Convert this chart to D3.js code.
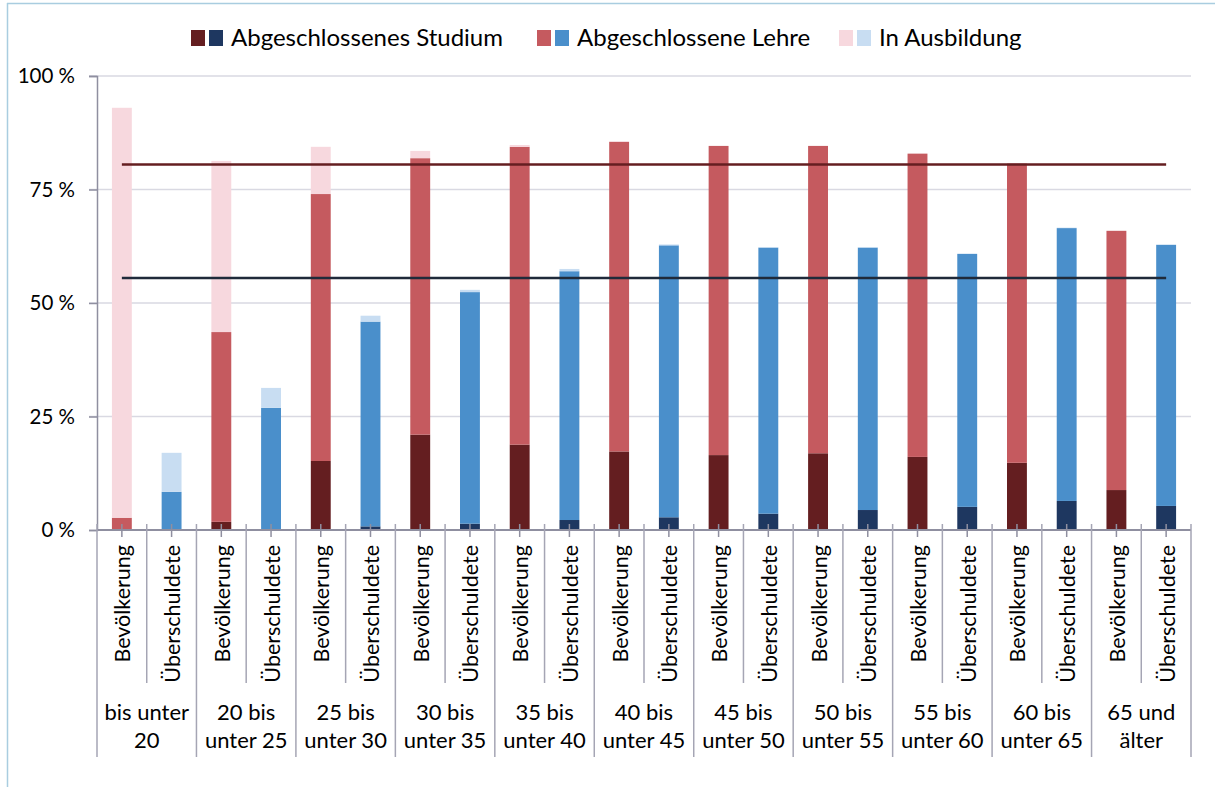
<!DOCTYPE html>
<html>
<head>
<meta charset="utf-8">
<script src="https://cdn.jsdelivr.net/npm/d3@7"></script>
<style>
  body { margin: 0; background: #fff; }
  text { font-family: Lato, 'Open Sans', sans-serif; fill: #000; }
</style>
</head>
<body>
<svg id="chart" width="1215" height="787"></svg>
<script>
// age groups (two-line labels) and the two populations per group
var ageGroups = [
  ['bis unter', '20'], ['20 bis', 'unter 25'], ['25 bis', 'unter 30'], ['30 bis', 'unter 35'],
  ['35 bis', 'unter 40'], ['40 bis', 'unter 45'], ['45 bis', 'unter 50'], ['50 bis', 'unter 55'],
  ['55 bis', 'unter 60'], ['60 bis', 'unter 65'], ['65 und', 'älter']
]
var populations = ['Bevölkerung', 'Überschuldete']
var seriesNames = ['Abgeschlossenes Studium', 'Abgeschlossene Lehre', 'In Ausbildung']

// shares in % (Bevölkerung)
var studiumBev = [0, 1.8, 15.2, 21.0, 18.8, 17.3, 16.5, 16.9, 16.1, 14.8, 8.8]
var lehreBev = [2.7, 41.8, 58.8, 60.9, 65.6, 68.2, 68.1, 67.7, 66.8, 65.9, 57.1]
var ausbildungBev = [90.3, 37.7, 10.4, 1.6, 0.4, 0.1, 0, 0, 0, 0, 0]

// shares in % (Überschuldete)
var studiumUeb = [0, 0, 0.8, 1.4, 2.2, 2.8, 3.6, 4.4, 5.1, 6.4, 5.3]
var lehreUeb = [8.4, 26.9, 45.1, 51.0, 54.8, 59.9, 58.6, 57.8, 55.7, 60.1, 57.5]
var ausbildungUeb = [8.6, 4.4, 1.3, 0.5, 0.5, 0.2, 0.1, 0.1, 0.1, 0.1, 0.1]

// average lines (Bevölkerung / Überschuldete, all ages)
var avgBev = 80.5
var avgUeb = 55.5

var yTicks = [0, 25, 50, 75, 100]

var colors = {
  'Bevölkerung': ['#641e20', '#c55a5f', '#f7d8de'],
  'Überschuldete': ['#1e3760', '#4a8fcb', '#c8ddf2']
}

var svg = d3.select('#chart')
var plotLeft = 97, plotRight = 1191, plotTop = 76, plotBottom = 530

// one row per bar
var rows = []
ageGroups.forEach(function (g, i) {
  rows.push({ id: i * 2, group: i, pop: populations[0], studium: studiumBev[i], lehre: lehreBev[i], ausbildung: ausbildungBev[i] })
  rows.push({ id: i * 2 + 1, group: i, pop: populations[1], studium: studiumUeb[i], lehre: lehreUeb[i], ausbildung: ausbildungUeb[i] })
})

var keys = ['studium', 'lehre', 'ausbildung']
var stacked = d3.stack().keys(keys)(rows)

var x = d3.scaleBand()
    .domain(rows.map(function (d) { return d.id }))
    .range([plotLeft, plotRight])
    .paddingInner(0.6)
    .paddingOuter(0.3)

var xGroup = d3.scaleBand()
    .domain(ageGroups.map(function (d, i) { return i }))
    .range([plotLeft, plotRight])

var y = d3.scaleLinear()
    .domain([0, 100])
    .range([plotBottom, plotTop])

function center (id) { return x(id) + x.bandwidth() / 2 }

// outer frame (cropped chart border)
svg.append('line').attr('x1', 7).attr('x2', 1215).attr('y1', 3.5).attr('y2', 3.5)
    .attr('stroke', '#a9cde0').attr('stroke-width', 1.5)
svg.append('line').attr('x1', 7.5).attr('x2', 7.5).attr('y1', 3).attr('y2', 787)
    .attr('stroke', '#a9cde0').attr('stroke-width', 1.5)

// gridlines
svg.append('g')
  .selectAll('line')
  .data(yTicks.filter(function (d) { return d > 0 }))
  .enter().append('line')
    .attr('x1', plotLeft - 8).attr('x2', plotRight)
    .attr('y1', function (d) { return y(d) }).attr('y2', function (d) { return y(d) })
    .attr('stroke', '#d9d9e2').attr('stroke-width', 1.5)

// y axis
var yAxis = svg.append('g')
    .attr('transform', 'translate(' + plotLeft + ',0)')
    .call(d3.axisLeft(y).tickValues(yTicks).tickSize(8).tickPadding(14)
      .tickFormat(function (d) { return d + ' %' }))
yAxis.select('.domain').attr('stroke', '#8f8fa0').attr('stroke-width', 1.5)
yAxis.selectAll('.tick line').attr('stroke', '#8f8fa0').attr('stroke-width', 1.5)
yAxis.selectAll('.tick text').style('font-size', '20.5px').style('font-family', 'Lato, sans-serif').attr('fill', '#000')

// bars
svg.append('g')
  .selectAll('g')
  .data(stacked)
  .enter().append('g')
  .selectAll('rect')
  .data(function (s) { return s.map(function (d) { d.key = s.key; return d }) })
  .enter().append('rect')
    .attr('x', function (d) { return x(d.data.id) })
    .attr('width', x.bandwidth())
    .attr('y', function (d) { return y(d[1]) })
    .attr('height', function (d) { return y(d[0]) - y(d[1]) })
    .attr('fill', function (d) { return colors[d.data.pop][keys.indexOf(d.key)] })

// x axis line and tick marks
var axisColor = '#8f8fa0'
svg.append('line')
    .attr('x1', plotLeft).attr('x2', plotRight).attr('y1', plotBottom).attr('y2', plotBottom)
    .attr('stroke', axisColor).attr('stroke-width', 2)

svg.append('g')
  .selectAll('line')
  .data(rows)
  .enter().append('line')
    .attr('x1', function (d) { return center(d.id) }).attr('x2', function (d) { return center(d.id) })
    .attr('y1', plotBottom - 6).attr('y2', plotBottom + 7)
    .attr('stroke', axisColor).attr('stroke-width', 1.5)

// separators between the two bars of a group
svg.append('g')
  .selectAll('line')
  .data(ageGroups)
  .enter().append('line')
    .attr('x1', function (d, i) { return xGroup(i) + xGroup.bandwidth() / 2 })
    .attr('x2', function (d, i) { return xGroup(i) + xGroup.bandwidth() / 2 })
    .attr('y1', plotBottom - 6).attr('y2', 683)
    .attr('stroke', '#a5a5b4').attr('stroke-width', 1.5)

// separators between groups
svg.append('g')
  .selectAll('line')
  .data(d3.range(ageGroups.length + 1))
  .enter().append('line')
    .attr('x1', function (i) { return plotLeft + i * xGroup.step() })
    .attr('x2', function (i) { return plotLeft + i * xGroup.step() })
    .attr('y1', plotBottom - 6).attr('y2', 757)
    .attr('stroke', '#a5a5b4').attr('stroke-width', 1.5)

// population labels (rotated)
svg.append('g')
  .selectAll('text')
  .data(rows)
  .enter().append('text')
    .attr('transform', function (d) { return 'translate(' + (center(d.id) + 1) + ',545) rotate(-90)' })
    .attr('text-anchor', 'end')
    .attr('dy', '0.35em')
    .style('font-size', '21.5px')
    .text(function (d) { return d.pop })

// age group labels
var gl = svg.append('g')
  .selectAll('text')
  .data(ageGroups)
  .enter().append('text')
    .attr('x', function (d, i) { return xGroup(i) + xGroup.bandwidth() / 2 })
    .attr('y', 720)
    .attr('text-anchor', 'middle')
    .style('font-size', '22px')
gl.append('tspan').text(function (d) { return d[0] })
gl.append('tspan')
    .attr('x', function (d, i) { return xGroup(i) + xGroup.bandwidth() / 2 })
    .attr('dy', 28)
    .text(function (d) { return d[1] })

// average lines
var line = d3.line()
    .x(function (d) { return center(d.id) })
    .y(function (d) { return y(d.v) })

svg.append('path')
    .datum(rows.map(function (d) { return { id: d.id, v: avgBev } }))
    .attr('d', line)
    .attr('fill', 'none').attr('stroke', '#641e20').attr('stroke-width', 2.5)

svg.append('path')
    .datum(rows.map(function (d) { return { id: d.id, v: avgUeb } }))
    .attr('d', line)
    .attr('fill', 'none').attr('stroke', '#1f2a3a').attr('stroke-width', 2.5)

// legend
var legendX = [191, 537, 839]
var legend = svg.append('g')
  .selectAll('g')
  .data(seriesNames)
  .enter().append('g')
    .attr('transform', function (d, i) { return 'translate(' + legendX[i] + ',0)' })

legend.append('rect')
    .attr('x', 0).attr('y', 30).attr('width', 14).attr('height', 16)
    .attr('fill', function (d, i) { return colors[populations[0]][i] })
legend.append('rect')
    .attr('x', 18).attr('y', 30).attr('width', 14).attr('height', 16)
    .attr('fill', function (d, i) { return colors[populations[1]][i] })
legend.append('text')
    .attr('x', 40).attr('y', 46)
    .style('font-size', '24px')
    .text(function (d) { return d })
</script>
</body>
</html>
